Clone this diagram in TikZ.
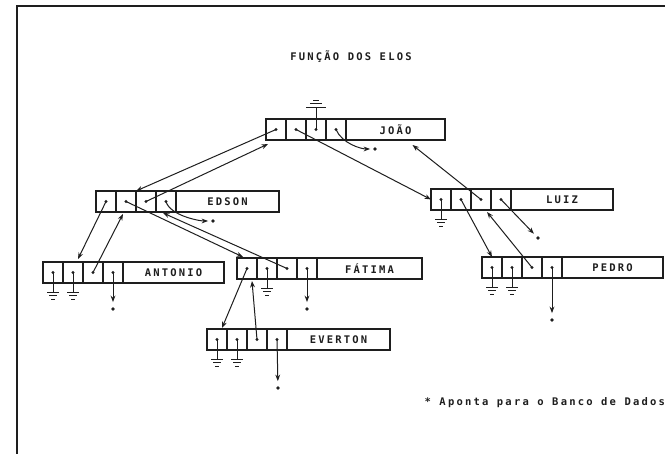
\documentclass[tikz,border=0pt]{standalone}
\usepackage{fontspec}
\usetikzlibrary{arrows.meta}
\newfontfamily\dotfont[LetterSpace=21]{DejaVu Sans Mono Bold}
\definecolor{ink}{HTML}{1E1E1E}
\newcommand\recbox[5]{%
  \node[cell, anchor=north west] (#1c1) at (#2,#3) {};
  \node[cell, anchor=west] (#1c2) at (#1c1.east) {};
  \node[cell, anchor=west] (#1c3) at (#1c2.east) {};
  \node[cell, anchor=west] (#1c4) at (#1c3.east) {};
  \node[namebox, anchor=west, minimum width=#5pt] (#1n) at (#1c4.east) {#4};
  \node[pt] (#1d1) at (#1c1) {};
  \node[pt] (#1d2) at (#1c2) {};
  \node[pt] (#1d3) at (#1c3) {};
  \node[pt] (#1d4) at (#1c4) {};
}
\tikzset{
  gnd/.pic={\draw[stem] (0,0) -- (0,20) (-6,20) -- (6,20) (-4,23.5) -- (4,23.5) (-2,27) -- (2,27);},
  gndup/.pic={\draw[stem] (0,0) -- (0,-22) (-10,-22) -- (10,-22) (-6,-26) -- (6,-26) (-3,-29) -- (3,-29);}
}
\begin{document}
\begin{tikzpicture}[x=1pt,y=-1pt,
  every node/.style={inner sep=0pt, outer sep=0pt},
  cell/.style={draw=ink, line width=1.1pt, minimum width=20pt, minimum height=21pt},
  namebox/.style={draw=ink, line width=1.1pt, minimum height=21pt, font=\dotfont\fontsize{10.5}{12}\selectfont, text=ink},
  pt/.style={circle, fill=ink, minimum size=3.4pt},
  db/.style={circle, fill=ink, minimum size=3.8pt},
  ptr/.style={draw=ink, line width=1pt, -{Stealth[length=6.5pt,width=4.8pt]}},
  stem/.style={draw=ink, line width=1pt},
  txt/.style={font=\dotfont\fontsize{10.5}{12}\selectfont, text=ink}
]
\useasboundingbox (0,0) rectangle (665,454);
\fill[white] (0,0) rectangle (665,454);
\draw[ink, line width=1.6pt] (665,6) -- (17,6) -- (17,454);

\node[txt] (title) at (351,57) {FUNÇÃO DOS ELOS};

\recbox{J}{266}{119}{JOÃO}{99}
\recbox{E}{96}{191}{EDSON}{103}
\recbox{L}{431}{189}{LUIZ}{102}
\recbox{A}{43}{262}{ANTONIO}{101}
\recbox{F}{237}{258}{FÁTIMA}{105}
\recbox{P}{482}{257}{PEDRO}{101}
\recbox{V}{207}{329}{EVERTON}{103}

\node[db] (sJ) at (375,149) {};
\node[db] (sE) at (213,221) {};
\node[db] (sL) at (538,238) {};
\node[db] (sA) at (113,309) {};
\node[db] (sF) at (307,309) {};
\node[db] (sP) at (552,320) {};
\node[db] (sV) at (278,388) {};

\pic at (Jd3) {gndup};
\pic at (Ld1) {gnd};
\pic at (Ad1) {gnd};
\pic at (Ad2) {gnd};
\pic at (Fd2) {gnd};
\pic at (Pd1) {gnd};
\pic at (Pd2) {gnd};
\pic at (Vd1) {gnd};
\pic at (Vd2) {gnd};

\draw[ptr] (Jd1.center) -- (Ec2.north east);
\draw[ptr] (Ed3.center) -- ([shift={(2,4)}]Jc1.south west);
\draw[ptr] (Jd2.center) -- (Lc1.west);
\draw[ptr] (Ld3.center) -- ([shift={(17,5)}]Jn.south);
\draw[ptr, shorten >=3pt] (Jd4.center) .. controls +(6,14) and +(-14,0) .. (sJ);
\draw[ptr, shorten >=4pt] (Ld4.center) -- (sL);
\draw[ptr] (Ld2.center) -- (Pc1.north);
\draw[ptr] (Pd3.center) -- ([shift={(6,2)}]Lc3.south);
\draw[ptr, shorten >=5pt] (Pd4.center) -- (sP);
\draw[ptr, shorten >=3pt] (Ed4.center) .. controls +(4,14) and +(-14,0) .. (sE);
\draw[ptr] (Ed2.center) -- ([shift={(-4,-1)}]Fc1.north);
\draw[ptr] (Fd3.center) -- ([shift={(-3,1)}]Ec4.south);
\draw[ptr] (Ed1.center) -- ([shift={(5,-3)}]Ac2.north);
\draw[ptr] (Ad3.center) -- ([shift={(-3,2)}]Ec2.south);
\draw[ptr, shorten >=5pt] (Ad4.center) -- (sA);
\draw[ptr] (Fd1.center) -- ([shift={(5,-1)}]Vc1.north);
\draw[ptr] (Vd3.center) -- ([shift={(-5,2)}]Fc1.south east);
\draw[ptr, shorten >=5pt] (Fd4.center) -- (sF);
\draw[ptr, shorten >=5pt] (Vd4.center) -- (sV);

\node[txt, anchor=east] (legend) at (665,403) {* Aponta para o Banco de Dados};
\end{tikzpicture}
\end{document}
